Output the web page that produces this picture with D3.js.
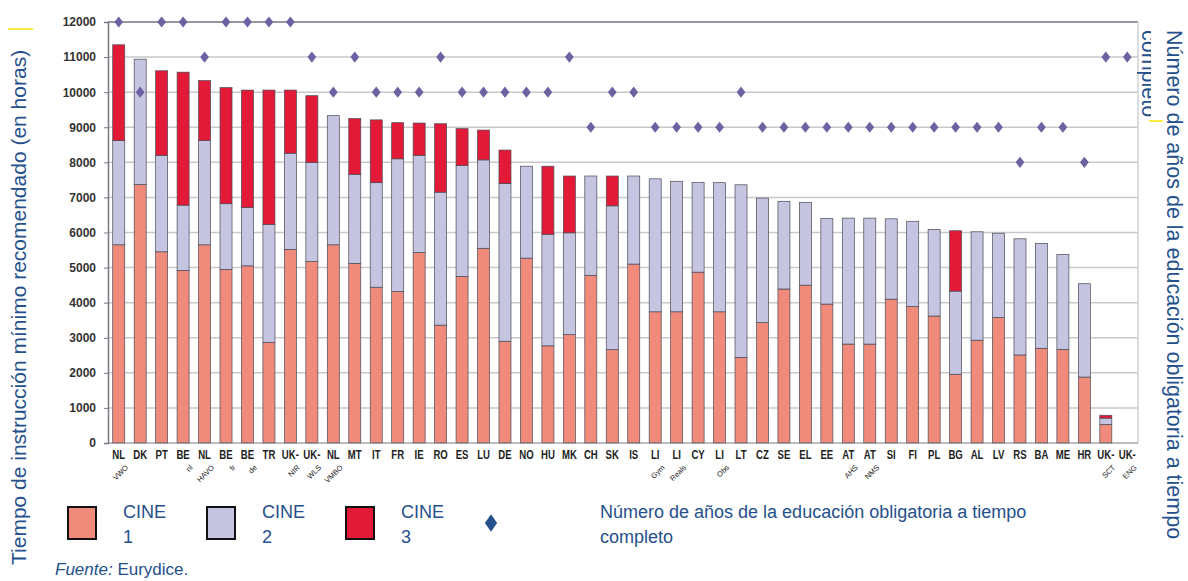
<!DOCTYPE html>
<html><head><meta charset="utf-8">
<script src="https://cdn.jsdelivr.net/npm/d3@7"></script>
<style>
html,body{margin:0;padding:0;background:#fff;}
svg{display:block;font-family:"Liberation Sans",Arial,sans-serif;}
</style></head>
<body>
<svg id="chart" width="1188" height="581"></svg>
<script>
const categories = ["NL","DK","PT","BE","NL","BE","BE","TR","UK-","UK-","NL","MT","IT","FR","IE","RO","ES","LU","DE","NO","HU","MK","CH","SK","IS","LI","LI","CY","LI","LT","CZ","SE","EL","EE","AT","AT","SI","FI","PL","BG","AL","LV","RS","BA","ME","HR","UK-","UK-"];
const subLabels = ["VWO","","","nl","HAVO","fr","de","","NIR","WLS","VMBO","","","","","","","","","","","","","","","Gym","Reals","","Obs","","","","","","AHS","NMS","","","","","","","","","","","SCT","ENG"];
const cine1 = [5650,7370,5450,4920,5650,4950,5050,2870,5520,5170,5650,5120,4440,4320,5430,3360,4750,5550,2900,5270,2770,3090,4780,2660,5100,3740,3740,4870,3740,2440,3430,4390,4500,3960,2820,2820,4100,3890,3620,1960,2930,3580,2510,2700,2670,1880,530,0];
const cine2 = [2970,3570,2750,1860,2970,1870,1660,3360,2740,2830,3680,2540,2980,3780,2770,3790,3160,2520,4500,2620,3180,2900,2830,4100,2510,3790,3720,2560,3680,4920,3550,2500,2360,2440,3590,3590,2290,2430,2470,2370,3090,2400,3310,2990,2700,2660,180,0];
const cine3 = [2730,0,2410,3790,1710,3310,3350,3830,1800,1900,0,1590,1790,1030,920,1950,1050,850,950,0,1940,1620,0,850,0,0,0,0,0,0,0,0,0,0,0,0,0,0,0,1720,0,0,0,0,0,0,80,0];
const years = [12,10,12,12,11,12,12,12,12,11,10,11,10,10,10,11,10,10,10,10,10,11,9,10,10,9,9,9,9,10,9,9,9,9,9,9,9,9,9,9,9,9,8,9,9,8,11,11];
const yTicks = [0,1000,2000,3000,4000,5000,6000,7000,8000,9000,10000,11000,12000];
const seriesKeys = ["c1","c2","c3"];
const seriesNames = ["CINE 1","CINE 2","CINE 3"];
const colors = {c1:"#f08b7b", c2:"#c5c5e2", c3:"#e31a37"};
const blue = "#24508c";

const svg = d3.select("#chart");
const L = 108, R = 1138, T = 22, B = 443;
const n = categories.length;
const x = d3.scaleBand().domain(d3.range(n)).range([L,R]).paddingInner(0.44).paddingOuter(0.22);
const y = d3.scaleLinear().domain([0,12000]).range([B,T]);
const yR = d3.scaleLinear().domain([0,12]).range([B,T]);

// gridlines
svg.append("g").selectAll("line").data(yTicks.filter(d=>d>0)).join("line")
  .attr("x1",L).attr("x2",R).attr("y1",d=>y(d)).attr("y2",d=>y(d))
  .attr("stroke",d=>d===12000?"#6f7482":"#c9c9cc").attr("stroke-width",1.5);
// right border
svg.append("line").attr("x1",R).attr("x2",R).attr("y1",T).attr("y2",B).attr("stroke","#d0d0d4").attr("stroke-width",1.5);

// stacked bars
const rows = d3.range(n).map(i=>({i, c1:cine1[i], c2:cine2[i], c3:cine3[i]}));
const stacked = d3.stack().keys(seriesKeys)(rows);
const gBars = svg.append("g");
stacked.forEach(s=>{
  gBars.append("g").selectAll("rect").data(s.filter(d=>d[1]-d[0]>0)).join("rect")
    .attr("x",d=>x(d.data.i)).attr("width",x.bandwidth())
    .attr("y",d=>y(d[1])).attr("height",d=>y(d[0])-y(d[1]))
    .attr("fill",colors[s.key]).attr("stroke","#4a4a55").attr("stroke-width",0.7);
});

// y axis
const yAxis = d3.axisLeft(y).tickValues(yTicks).tickSize(4).tickPadding(8).tickFormat(d3.format("d"));
const gy = svg.append("g").attr("transform",`translate(${L},0)`).call(yAxis);
gy.select(".domain").attr("stroke","#7a7a85").attr("stroke-width",1.5);
gy.selectAll(".tick line").attr("stroke","#7a7a85");
gy.selectAll(".tick text").attr("font-size",12).attr("font-weight","bold").attr("fill","#333").attr("font-family","'Liberation Sans',Arial,sans-serif");
// bottom axis line
svg.append("line").attr("x1",L).attr("x2",R).attr("y1",B).attr("y2",B).attr("stroke","#7a7a85").attr("stroke-width",1.2);

// diamonds
const dsym = d3.symbol().type(d3.symbolDiamond).size(50);
svg.append("g").selectAll("path").data(years).join("path")
  .attr("d",dsym).attr("transform",(d,i)=>`translate(${x(i)+x.bandwidth()/2},${yR(d)}) scale(1.15,0.85)`)
  .attr("fill","#6d61a1");

// x labels
svg.append("g").selectAll("text").data(categories).join("text")
  .attr("transform",(d,i)=>`translate(${x(i)+x.bandwidth()/2},459) scale(0.8,1)`)
  .attr("text-anchor","middle").attr("font-size",12).attr("font-weight","bold").attr("fill","#222").text(d=>d);
svg.append("g").selectAll("text").data(subLabels).join("text")
  .attr("transform",(d,i)=>`translate(${x(i)+x.bandwidth()/2+10},468) rotate(-45)`)
  .attr("text-anchor","end").attr("font-size",7.5).attr("fill","#222").text(d=>d);

// axis titles
svg.append("text").attr("transform","translate(26,565) rotate(-90)")
  .attr("font-size",21).attr("fill",blue).text("Tiempo de instrucción mínimo recomendado (en horas)");
svg.append("text").attr("transform","translate(1167,30) rotate(90)")
  .attr("font-size",21.5).attr("fill",blue).text("Número de años de la educación obligatoria a tiempo");
svg.append("clipPath").attr("id","rc").append("rect").attr("x",1136).attr("y",0).attr("width",15).attr("height",200);
svg.append("g").attr("clip-path","url(#rc)").append("text").attr("transform","translate(1142,30) rotate(90)")
  .attr("font-size",21.5).attr("fill",blue).text("completo");

// decorative yellow marks
svg.append("line").attr("x1",8).attr("x2",33).attr("y1",29).attr("y2",29).attr("stroke","#ffe600").attr("stroke-width",1.5);
svg.append("line").attr("x1",1149).attr("x2",1163).attr("y1",121).attr("y2",121).attr("stroke","#ffe600").attr("stroke-width",1.5);

// legend
const legX = [68,207,346];
const lg = svg.append("g");
seriesKeys.forEach((k,i)=>{
  lg.append("rect").attr("x",legX[i]).attr("y",507).attr("width",28).attr("height",32)
    .attr("fill",colors[k]).attr("stroke","#111").attr("stroke-width",2);
  const parts = seriesNames[i].split(" ");
  const t = lg.append("text").attr("font-size",18).attr("fill",blue);
  t.append("tspan").attr("x",legX[i]+55).attr("y",518).text(parts[0]);
  t.append("tspan").attr("x",legX[i]+55).attr("y",543).text(parts[1]);
});
lg.append("path").attr("d",d3.symbol().type(d3.symbolDiamond).size(90))
  .attr("transform","translate(491,523) scale(1.2,1)").attr("fill",blue);
const t4 = lg.append("text").attr("font-size",18).attr("fill",blue);
t4.append("tspan").attr("x",600).attr("y",518).text("Número de años de la educación obligatoria a tiempo");
t4.append("tspan").attr("x",600).attr("y",543).text("completo");

// source
const src = svg.append("text").attr("x",55).attr("y",575).attr("font-size",17).attr("fill",blue);
src.append("tspan").attr("font-style","italic").text("Fuente:");
src.append("tspan").text(" Eurydice.");
</script>
</body></html>
